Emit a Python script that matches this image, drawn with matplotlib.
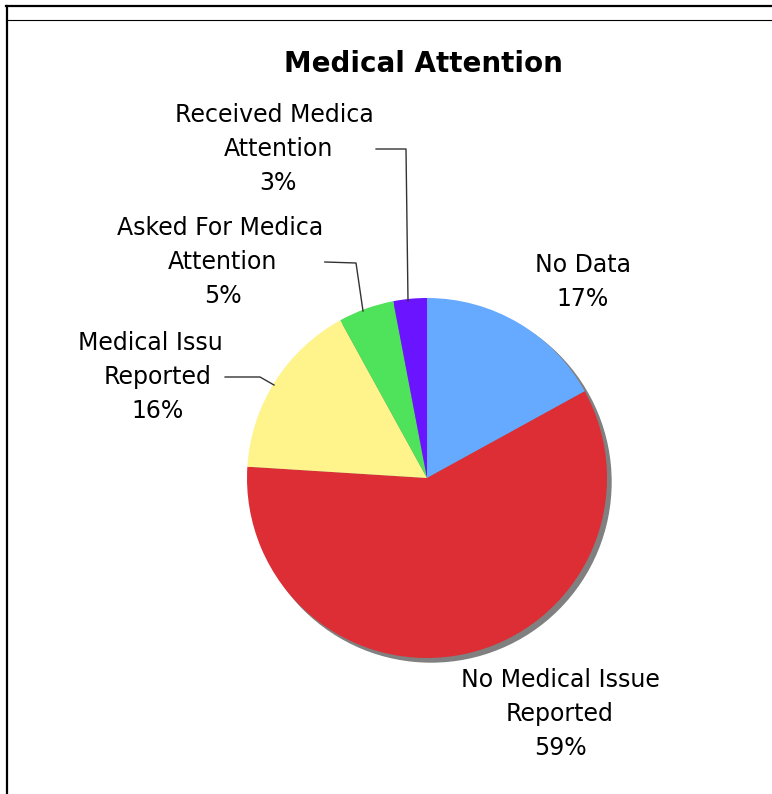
import matplotlib
matplotlib.use("Agg")
import matplotlib.pyplot as plt
from matplotlib.patches import Circle, Rectangle
from matplotlib.lines import Line2D

# data
categories = ["No Data", "No Medical Issue Reported", "Medical Issue Reported",
              "Asked For Medical Attention", "Received Medical Attention"]
shares = [17, 59, 16, 5, 3]
colors = ["#66AAFF", "#DD2D35", "#FFF38B", "#4EE35B", "#6A14FF"]

# label lines (last line is the percentage)
label_lines = [
    ["No Data"],
    ["No Medical Issue", "Reported"],
    ["Medical Issue", "Reported"],
    ["Asked For Medical", "Attention"],
    ["Received Medical", "Attention"],
]
# how many characters of the first line stay visible (None = all)
visible_chars = [None, None, 12, 16, 15]

W, H = 772, 794
fig = plt.figure(figsize=(W / 100, H / 100), dpi=100)
ax = fig.add_axes([0, 0, 1, 1])


def Y(py):
    # pixel row -> data y
    return H - py


cx, cy, r = 427, 478, 180

# shadow
ax.add_patch(Circle((cx + 4, Y(cy + 4)), r, color="#808080", zorder=1))
ax.pie(shares, colors=colors, startangle=90, counterclock=False,
       center=(cx, Y(cy)), radius=r, frame=True,
       wedgeprops=dict(linewidth=0, zorder=2))
ax.set_xlim(0, W)
ax.set_ylim(0, H)
ax.set_aspect("equal")
ax.axis("off")

ax.text(423, Y(64), "Medical Attention", ha="center", va="center",
        fontsize=20, fontweight="bold")

# label placement: centre x, first line y
label_pos = [(583, 265), (560, 680), (158, 343), (223, 228), (278, 115)]
# bend and end point of the leader lines (pixel rows)
leader_pts = [None, None,
              [(260, 377), (274, 385)],
              [(356, 263), (363, 311)],
              [(406, 149), (408, 301)]]
line_gap = 34
fs = 17

renderer = fig.canvas.get_renderer()

for lines, share, (lx, ly), nvis, lead in zip(label_lines, shares, label_pos,
                                             visible_chars, leader_pts):
    rows = lines + ["%d%%" % share]
    texts = []
    for i, row in enumerate(rows):
        t = ax.text(lx, Y(ly + i * line_gap), row, ha="center", va="center",
                    fontsize=fs, color="black", zorder=4)
        texts.append(t)
    if nvis is None:
        continue
    # width of the first line and of its visible part
    full = texts[0].get_window_extent(renderer)
    probe = ax.text(0, 0, lines[0][:nvis], fontsize=fs)
    part = probe.get_window_extent(renderer).width
    probe.remove()
    cut_x = full.x0 + part + 1
    # the label box is narrower than the first line, hide the overflow
    ax.add_patch(Rectangle((cut_x, Y(ly + 13)), 40, 26, facecolor="white",
                           edgecolor="none", zorder=5))
    # leader line from the label to its slice
    ly_mid = ly + line_gap
    xs = [cut_x + 1, lead[0][0], lead[1][0]]
    ys = [Y(ly_mid), Y(lead[0][1]), Y(lead[1][1])]
    ax.plot(xs, ys, color="#333333", linewidth=1, zorder=6)

# frame
fig.add_artist(Line2D([6 / W, 1], [1 - 6 / H, 1 - 6 / H], color="black", linewidth=1.6))
fig.add_artist(Line2D([6 / W, 1], [1 - 19.5 / H, 1 - 19.5 / H], color="black", linewidth=0.8))
fig.add_artist(Line2D([6.5 / W, 6.5 / W], [0, 1 - 6 / H], color="black", linewidth=1.6))

fig.savefig("out.png", dpi=100)
